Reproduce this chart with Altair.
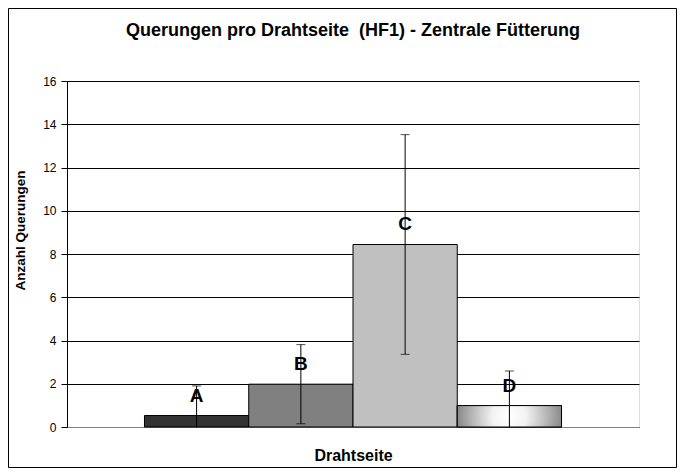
import altair as alt
import pandas as pd

categories = ["A", "B", "C", "D"]
means = [0.53, 1.98, 8.44, 0.99]
errors = [1.37, 1.83, 5.08, 1.60]
bar_colors = ["#333333", "#808080", "#C0C0C0", "#A0A0A0"]
y_ticks = [0, 2, 4, 6, 8, 10, 12, 14, 16]
chart_title = ["Querungen pro Drahtseite\u00a0 (HF1) - Zentrale Fütterung"]

df = pd.DataFrame({"cat": categories, "mean": means, "err": errors})
df["lo"] = df["mean"] - df["err"]
df["hi"] = df["mean"] + df["err"]

FONT = "Liberation Sans"
W, H = 572, 346
PL, PT, PR, PB = 59, 73, 38, 41

xscale = alt.Scale(domain=categories, paddingInner=0, paddingOuter=0.743)
x_axis = alt.Axis(labels=False, ticks=False, domainColor="#808080", domainWidth=1,
                  title="Drahtseite", titleFont=FONT, titleFontSize=16,
                  titleFontWeight="bold", titleColor="#000", titleY=28,
                  titleBaseline="middle")
y_axis = alt.Axis(values=y_ticks, grid=True, gridColor="#000", gridWidth=1,
                  domainColor="#000", tickColor="#000", tickSize=6,
                  labelFont=FONT, labelFontSize=12, labelColor="#000", labelPadding=5,
                  title="Anzahl Querungen", titleFont=FONT, titleFontSize=13.5,
                  titleFontWeight="bold", titleColor="#000", titleX=-47, titleY=149,
                  titleBaseline="middle", titleAngle=270)

base = alt.Chart(df)
X = alt.X("cat:N", scale=xscale, axis=x_axis)
Xn = alt.X("cat:N", scale=xscale)
yscale = alt.Scale(domain=[0, 16], nice=False)

bars = base.mark_bar(stroke="#000", strokeWidth=1).encode(
    x=X,
    y=alt.Y("mean:Q", scale=yscale, axis=y_axis),
    color=alt.Color("cat:N", scale=alt.Scale(domain=categories, range=bar_colors), legend=None),
)

gradient = {
    "gradient": "radial",
    "x1": 0.5, "y1": 0.5, "x2": 0.5, "y2": 0.5, "r1": 0, "r2": 0.55,
    "stops": [
        {"offset": 0, "color": "#FFFFFF"},
        {"offset": 0.3, "color": "#F2F2F2"},
        {"offset": 1, "color": "#7A7A7A"},
    ],
}
bar_d = base.transform_filter(alt.datum.cat == "D").mark_bar(
    stroke="#000", strokeWidth=1, fill=gradient
).encode(x=Xn, y=alt.Y("mean:Q", scale=yscale))

err = base.mark_rule(color="#000", strokeWidth=1, clip=True).encode(
    x=Xn, y=alt.Y("lo:Q", scale=yscale), y2="hi:Q"
)
cap_hi = base.mark_tick(orient="horizontal", size=9, thickness=1, color="#000").encode(
    x=Xn, y=alt.Y("hi:Q", scale=yscale)
)
cap_lo = base.transform_filter(alt.datum.lo >= 0).mark_tick(
    orient="horizontal", size=9, thickness=1, color="#000"
).encode(x=Xn, y=alt.Y("lo:Q", scale=yscale))

labels = base.mark_text(dy=-20, fontSize=19, fontWeight="bold", font=FONT,
                        color="#000", baseline="middle").encode(
    x=Xn, y=alt.Y("mean:Q", scale=yscale), text="cat:N"
)

single = pd.DataFrame({"t": chart_title})
border = alt.Chart(single).mark_rect(
    filled=False, stroke="#000", strokeWidth=1
).encode(
    x=alt.value(-PL + 0.5), x2=alt.value(W + PR - 0.5),
    y=alt.value(-PT + 0.5), y2=alt.value(H + PB - 0.5),
)
title = alt.Chart(single).mark_text(
    font=FONT, fontSize=18, fontWeight="bold", color="#000",
    align="center", baseline="middle"
).encode(x=alt.value(W / 2), y=alt.value(-50), text="t:N")

chart = alt.layer(border, bars, bar_d, err, cap_hi, cap_lo, labels, title).properties(
    width=W, height=H,
    autosize=alt.AutoSizeParams(type="none"),
    padding={"left": PL, "top": PT, "right": PR, "bottom": PB},
).configure_view(stroke="#808080", strokeWidth=1).configure(background="white")

chart.save("out.html", embed_options={"renderer": "svg", "actions": False})
